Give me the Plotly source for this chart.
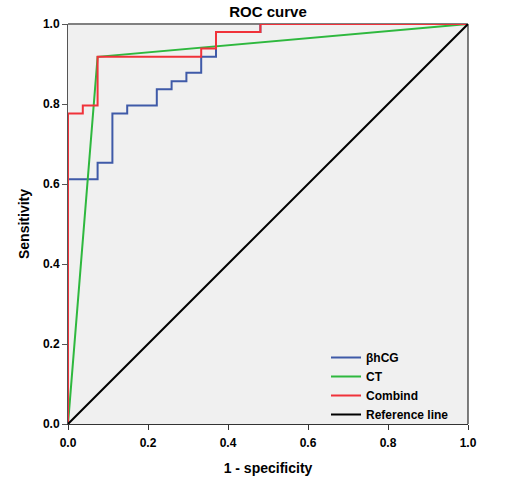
import plotly.graph_objects as go

# ROC data (false positive rate = 1 - specificity, true positive rate = sensitivity)
bhcg_fpr = [0.0, 0.0, 0.074, 0.111, 0.148, 0.222, 0.259, 0.296, 0.333, 0.370, 0.481, 1.0]
bhcg_tpr = [0.0, 0.612, 0.653, 0.776, 0.796, 0.837, 0.857, 0.878, 0.918, 0.980, 1.0, 1.0]

ct_fpr = [0.0, 0.074, 1.0]
ct_tpr = [0.0, 0.918, 1.0]

comb_fpr = [0.0, 0.0, 0.037, 0.074, 0.333, 0.370, 0.481, 1.0]
comb_tpr = [0.0, 0.776, 0.796, 0.918, 0.939, 0.980, 1.0, 1.0]

ref_x = [0.0, 1.0]
ref_y = [0.0, 1.0]

tick_vals = [0.0, 0.2, 0.4, 0.6, 0.8, 1.0]

FONT = "Liberation Sans, Arial, sans-serif"

fig = go.Figure()
fig.add_trace(go.Scatter(x=bhcg_fpr, y=bhcg_tpr, mode="lines", name="βhCG",
                         line=dict(color="#3F5AA8", width=2, shape="hv")))
fig.add_trace(go.Scatter(x=ct_fpr, y=ct_tpr, mode="lines", name="CT",
                         line=dict(color="#2EB83E", width=2)))
fig.add_trace(go.Scatter(x=comb_fpr, y=comb_tpr, mode="lines", name="Combind",
                         line=dict(color="#F0323A", width=2, shape="hv")))
fig.add_trace(go.Scatter(x=ref_x, y=ref_y, mode="lines", name="Reference line",
                         line=dict(color="#000000", width=2)))

axis_common = dict(
    range=[0, 1], tickvals=tick_vals, tickformat=".1f",
    showgrid=False, zeroline=False, showline=True, linewidth=1,
    ticks="outside", ticklen=5, tickwidth=1, automargin=False,
    tickfont=dict(family=FONT, size=12, color="#000000", weight="bold"),
)

fig.update_layout(
    width=507, height=477,
    margin=dict(l=68, r=39, t=24, b=53, autoexpand=False),
    paper_bgcolor="#FFFFFF", plot_bgcolor="#F0F0F0",
    title=dict(text="ROC curve", x=(68 + 200) / 507, xanchor="center",
               y=1 - 12 / 477, yanchor="middle", automargin=False,
               font=dict(family=FONT, size=15, color="#000000", weight="bold")),
    xaxis=dict(**axis_common, linecolor="#333333", tickcolor="#333333",
               ticklabelstandoff=3,
               title=dict(text="1 - specificity", standoff=13,
                          font=dict(family=FONT, size=14, color="#000000", weight="bold"))),
    yaxis=dict(**axis_common, linecolor="#555555", tickcolor="#555555",
               title=dict(text="Sensitivity", standoff=10,
                          font=dict(family=FONT, size=14, color="#000000", weight="bold"))),
    legend=dict(x=0.645, y=0.2025, xanchor="left", yanchor="top",
                bgcolor="rgba(0,0,0,0)", borderwidth=0, tracegroupgap=0,
                font=dict(family=FONT, size=12, color="#000000", weight="bold")),
    showlegend=True,
    shapes=[
        dict(type="line", xref="paper", yref="paper", x0=0, x1=1, y0=1, y1=1,
             line=dict(color="#808080", width=2), layer="below"),
        dict(type="line", xref="paper", yref="paper", x0=1, x1=1, y0=0, y1=1,
             line=dict(color="#000000", width=1), layer="below"),
    ],
)

fig.write_html(
    "out.html",
    config={"displayModeBar": False},
    post_script="document.body.style.margin='0';document.body.style.overflow='hidden';",
)
